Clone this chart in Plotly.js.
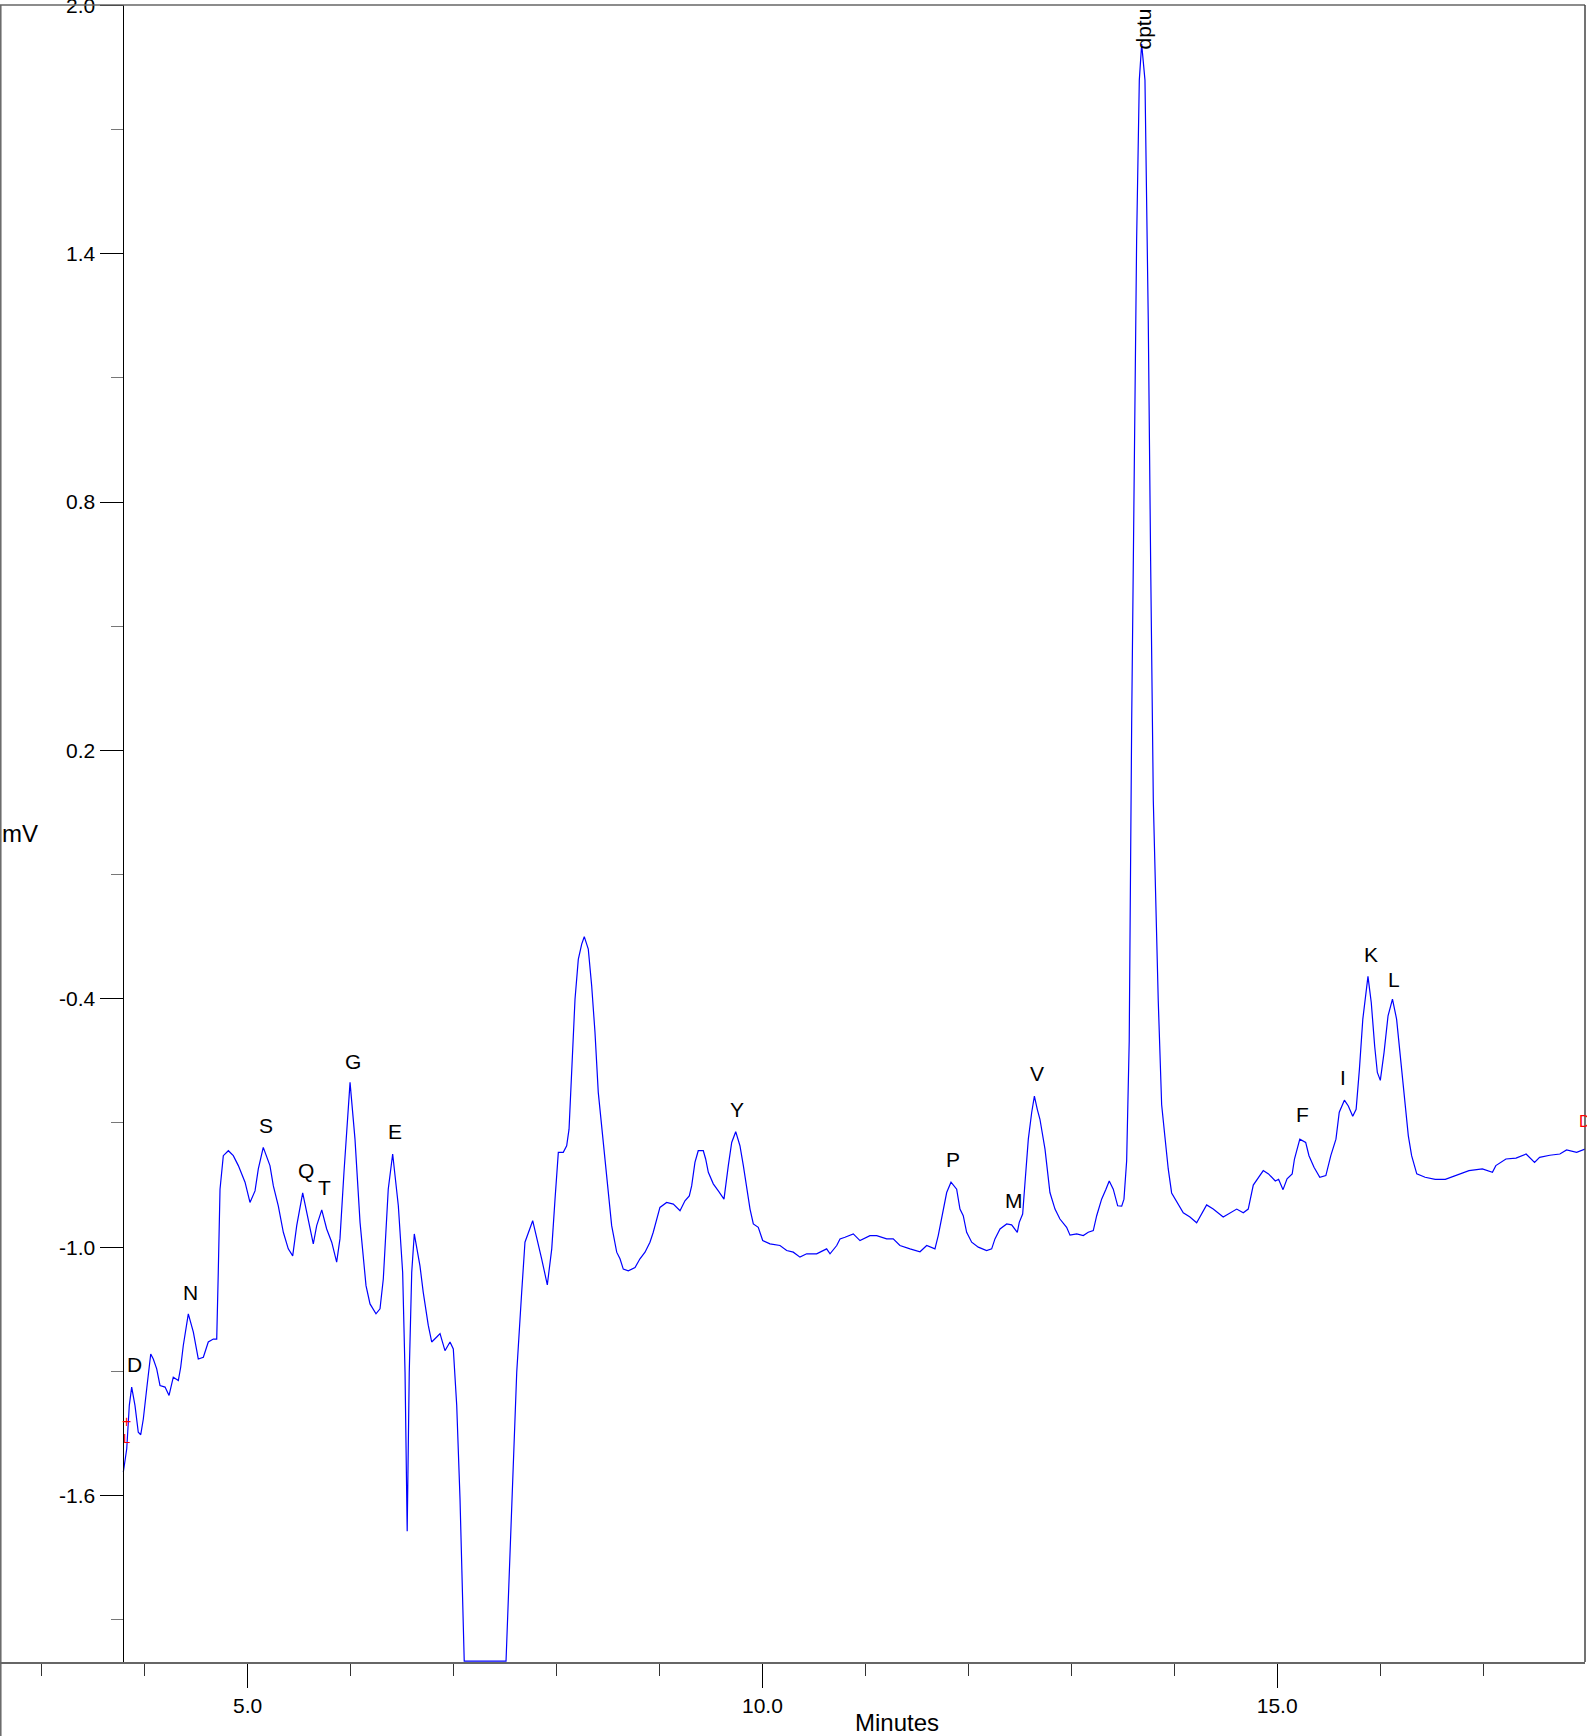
<!DOCTYPE html>
<html>
<head>
<meta charset="utf-8">
<script src="https://cdn.plot.ly/plotly-3.0.1.min.js"></script>
<style>
html,body{margin:0;padding:0;background:#fff;}
#chart{width:1587px;height:1736px;}
</style>
</head>
<body>
<div id="chart"></div>
<script>
// Retention time (minutes)
const time = [3.793,3.826,3.851,3.874,3.906,3.938,3.962,3.987,4.020,4.059,4.084,4.117,4.149,4.198,4.237,4.278,4.327,4.350,4.375,4.424,
4.473,4.521,4.570,4.618,4.667,4.700,4.715,4.732,4.764,4.813,4.861,4.910,4.975,5.023,5.072,5.104,5.152,5.217,5.250,5.298,
5.347,5.395,5.438,5.477,5.535,5.589,5.638,5.671,5.720,5.768,5.817,5.865,5.897,5.936,5.995,6.043,6.092,6.150,6.189,6.247,
6.286,6.318,6.366,6.409,6.464,6.506,6.529,6.550,6.570,6.594,6.619,6.674,6.706,6.755,6.788,6.837,6.869,6.917,6.966,6.998,
7.031,7.063,7.104,7.510,7.565,7.614,7.662,7.694,7.769,7.808,7.856,7.911,7.954,7.986,8.018,8.066,8.099,8.122,8.148,8.180,
8.212,8.245,8.270,8.309,8.342,8.374,8.406,8.445,8.488,8.536,8.585,8.617,8.649,8.698,8.763,8.811,8.860,8.908,8.940,8.973,
9.005,9.070,9.135,9.200,9.248,9.290,9.313,9.345,9.377,9.426,9.449,9.475,9.523,9.572,9.627,9.669,9.702,9.741,9.782,9.815,
9.848,9.880,9.912,9.960,10.003,10.074,10.171,10.236,10.300,10.365,10.430,10.527,10.624,10.657,10.722,10.754,10.802,10.883,10.948,11.045,
11.110,11.207,11.271,11.336,11.434,11.531,11.596,11.676,11.708,11.757,11.790,11.832,11.887,11.919,11.951,11.984,12.033,12.097,12.178,12.227,
12.259,12.308,12.373,12.421,12.453,12.476,12.495,12.528,12.551,12.583,12.616,12.642,12.670,12.696,12.745,12.793,12.842,12.890,12.955,12.988,
13.053,13.117,13.165,13.214,13.247,13.295,13.337,13.369,13.408,13.451,13.490,13.512,13.538,13.563,13.587,13.609,13.635,13.661,13.684,13.716,
13.748,13.771,13.797,13.845,13.878,13.910,13.942,13.975,14.039,14.088,14.153,14.218,14.315,14.379,14.476,14.541,14.607,14.671,14.719,14.768,
14.816,14.865,14.916,14.982,15.014,15.057,15.096,15.146,15.168,15.220,15.277,15.309,15.358,15.414,15.473,15.521,15.571,15.603,15.653,15.691,
15.734,15.767,15.799,15.832,15.882,15.914,15.947,15.973,16.002,16.038,16.077,16.120,16.160,16.201,16.241,16.274,16.306,16.356,16.437,16.535,
16.633,16.732,16.863,16.993,17.091,17.124,17.222,17.320,17.418,17.500,17.549,17.648,17.746,17.811,17.909,17.990];

// Detector signal (mV)
const signal = [-1.543,-1.487,-1.382,-1.338,-1.382,-1.447,-1.453,-1.415,-1.342,-1.258,-1.270,-1.294,-1.334,-1.338,-1.358,-1.314,-1.322,-1.290,-1.238,-1.161,
-1.205,-1.270,-1.266,-1.229,-1.222,-1.222,-1.061,-0.860,-0.779,-0.767,-0.779,-0.803,-0.843,-0.892,-0.864,-0.811,-0.759,-0.803,-0.852,-0.900,
-0.964,-1.004,-1.021,-0.948,-0.869,-0.932,-0.992,-0.948,-0.910,-0.956,-0.988,-1.036,-0.980,-0.819,-0.602,-0.739,-0.940,-1.093,-1.137,-1.161,
-1.149,-1.077,-0.860,-0.775,-0.900,-1.061,-1.302,-1.686,-1.302,-1.061,-0.968,-1.045,-1.109,-1.189,-1.229,-1.217,-1.209,-1.250,-1.229,-1.246,
-1.382,-1.608,-2.000,-2.000,-1.608,-1.302,-1.109,-0.988,-0.936,-0.976,-1.028,-1.091,-1.004,-0.884,-0.771,-0.771,-0.755,-0.715,-0.562,-0.401,
-0.305,-0.268,-0.250,-0.280,-0.369,-0.481,-0.626,-0.723,-0.843,-0.948,-1.012,-1.028,-1.053,-1.057,-1.049,-1.028,-1.012,-0.988,-0.964,-0.932,
-0.904,-0.892,-0.896,-0.912,-0.888,-0.876,-0.852,-0.795,-0.767,-0.767,-0.787,-0.819,-0.847,-0.864,-0.884,-0.803,-0.747,-0.721,-0.755,-0.803,
-0.860,-0.908,-0.944,-0.952,-0.984,-0.992,-0.996,-1.008,-1.012,-1.024,-1.016,-1.016,-1.004,-1.016,-0.996,-0.980,-0.976,-0.968,-0.984,-0.972,
-0.972,-0.980,-0.980,-0.996,-1.004,-1.011,-0.996,-1.004,-0.972,-0.908,-0.868,-0.843,-0.860,-0.908,-0.924,-0.964,-0.988,-1.000,-1.008,-1.004,
-0.980,-0.956,-0.944,-0.946,-0.956,-0.964,-0.940,-0.920,-0.843,-0.739,-0.674,-0.635,-0.667,-0.691,-0.763,-0.868,-0.908,-0.932,-0.952,-0.971,
-0.968,-0.972,-0.964,-0.960,-0.924,-0.884,-0.860,-0.840,-0.860,-0.900,-0.901,-0.884,-0.792,-0.502,0.272,0.851,1.433,1.819,1.906,1.819,
1.239,0.658,0.079,-0.405,-0.656,-0.734,-0.811,-0.869,-0.898,-0.917,-0.927,-0.941,-0.898,-0.908,-0.927,-0.917,-0.908,-0.917,-0.908,-0.850,
-0.831,-0.815,-0.823,-0.840,-0.836,-0.861,-0.835,-0.823,-0.787,-0.739,-0.747,-0.779,-0.807,-0.831,-0.827,-0.779,-0.739,-0.674,-0.645,-0.659,
-0.684,-0.667,-0.570,-0.449,-0.346,-0.409,-0.514,-0.578,-0.597,-0.530,-0.441,-0.401,-0.449,-0.554,-0.659,-0.731,-0.779,-0.823,-0.831,-0.836,
-0.836,-0.827,-0.815,-0.811,-0.819,-0.803,-0.787,-0.785,-0.775,-0.795,-0.783,-0.778,-0.775,-0.765,-0.771,-0.763];

// Peak labels and where they are written (minutes, mV)
const peakNames = ['D','N','S','Q','T','G','E','Y','P','M','V','dptu','F','I','K','L'];
const peakLabelTime = [3.906,4.450,5.176,5.567,5.742,6.027,6.432,9.750,11.854,12.444,12.663,13.700,15.244,15.636,15.907,16.133];
const peakLabelValue = [-1.284,-1.109,-0.705,-0.815,-0.856,-0.552,-0.721,-0.667,-0.787,-0.888,-0.580,1.942,-0.679,-0.590,-0.292,-0.353];

// Axis ticks
const xMajorTicks = [5, 10, 15];
const xMajorText = ['5.0', '10.0', '15.0'];
const xMinorTicks = [3, 4, 6, 7, 8, 9, 11, 12, 13, 14, 16, 17];
const yMajorTicks = [-1.6, -1.0, -0.4, 0.2, 0.8, 1.4, 2.0];
const yMajorText = ['-1.6', '-1.0', '-0.4', '0.2', '0.8', '1.4', '2.0'];
const yMinorTicks = [-1.9, -1.3, -0.7, -0.1, 0.5, 1.1, 1.7];

const FONT = 'Liberation Sans, Arial, sans-serif';

const trace = {
  x: time, y: signal, type: 'scatter', mode: 'lines',
  line: {color: '#0000ff', width: 1.2}, hoverinfo: 'skip', showlegend: false
};

const annotations = peakNames.map((n, i) => ({
  x: peakLabelTime[i], y: peakLabelValue[i], xref: 'x', yref: 'y',
  text: n, showarrow: false, xanchor: 'center', yanchor: 'middle',
  textangle: n === 'dptu' ? -90 : 0,
  font: {family: FONT, size: 21, color: '#000'}
}));

// axis titles
annotations.push({
  xref: 'paper', yref: 'paper', x: 897 / 1585, y: 0, yanchor: 'top', yshift: -45,
  xanchor: 'center', text: 'Minutes', showarrow: false,
  font: {family: FONT, size: 24, color: '#000'}
});
annotations.push({
  xref: 'paper', yref: 'y', x: 0, y: 0.0, xanchor: 'left', yanchor: 'middle', xshift: 0,
  text: 'mV', showarrow: false, font: {family: FONT, size: 24, color: '#000'}
});
// integration event markers
annotations.push({xref: 'x', yref: 'y', x: 3.82, y: -1.422, text: '+', showarrow: false,
  font: {family: FONT, size: 16, color: '#ff0000'}, xanchor: 'center', yanchor: 'middle'});
annotations.push({xref: 'x', yref: 'y', x: 3.82, y: -1.462, text: 'L', showarrow: false,
  font: {family: FONT, size: 13, color: '#ff0000'}, xanchor: 'center', yanchor: 'middle'});
annotations.push({xref: 'paper', yref: 'y', x: 1, y: -0.697, xshift: -8, text: 'D', showarrow: false,
  font: {family: FONT, size: 16, color: '#ff0000'}, xanchor: 'left', yanchor: 'middle'});

const layout = {
  width: 1587, height: 1736,
  margin: {l: 0, r: 2, t: 5, b: 74, pad: 0},
  paper_bgcolor: '#fff', plot_bgcolor: '#fff',
  showlegend: false,
  xaxis: {
    range: [2.595, 17.99], showgrid: false, zeroline: false,
    showline: true, linecolor: '#666', linewidth: 1.5,
    tickmode: 'array', tickvals: xMajorTicks, ticktext: xMajorText,
    ticks: 'outside', ticklen: 24, tickcolor: '#000', tickwidth: 1,
    tickfont: {family: FONT, size: 21, color: '#000'},
    minor: {tickmode: 'array', tickvals: xMinorTicks, ticks: 'outside', ticklen: 12, tickcolor: '#333', tickwidth: 1},
    fixedrange: true
  },
  yaxis: {
    range: [-2.002, 2.0005], anchor: 'free', position: 122.5 / 1585,
    showgrid: false, zeroline: false,
    showline: true, linecolor: '#000', linewidth: 1,
    tickmode: 'array', tickvals: yMajorTicks, ticktext: yMajorText,
    ticks: 'outside', ticklen: 23, tickcolor: '#000', tickwidth: 1,
    ticklabeloverflow: 'allow',
    tickfont: {family: FONT, size: 21, color: '#000'},
    minor: {tickmode: 'array', tickvals: yMinorTicks, ticks: 'outside', ticklen: 12, tickcolor: '#777', tickwidth: 1},
    fixedrange: true
  },
  shapes: [
    {type: 'line', xref: 'paper', yref: 'paper', x0: 0, x1: 1, y0: 1, y1: 1, line: {color: '#666', width: 1.5}},
    {type: 'line', xref: 'paper', yref: 'paper', x0: 0.0005, x1: 0.0005, y0: 1, y1: -0.05, line: {color: '#666', width: 1.5}},
    {type: 'line', xref: 'paper', yref: 'paper', x0: 1, x1: 1, y0: 1, y1: 0, line: {color: '#444', width: 1.5}}
  ],
  annotations: annotations
};

Plotly.newPlot('chart', [trace], layout, {staticPlot: true, displayModeBar: false});
</script>
</body>
</html>
